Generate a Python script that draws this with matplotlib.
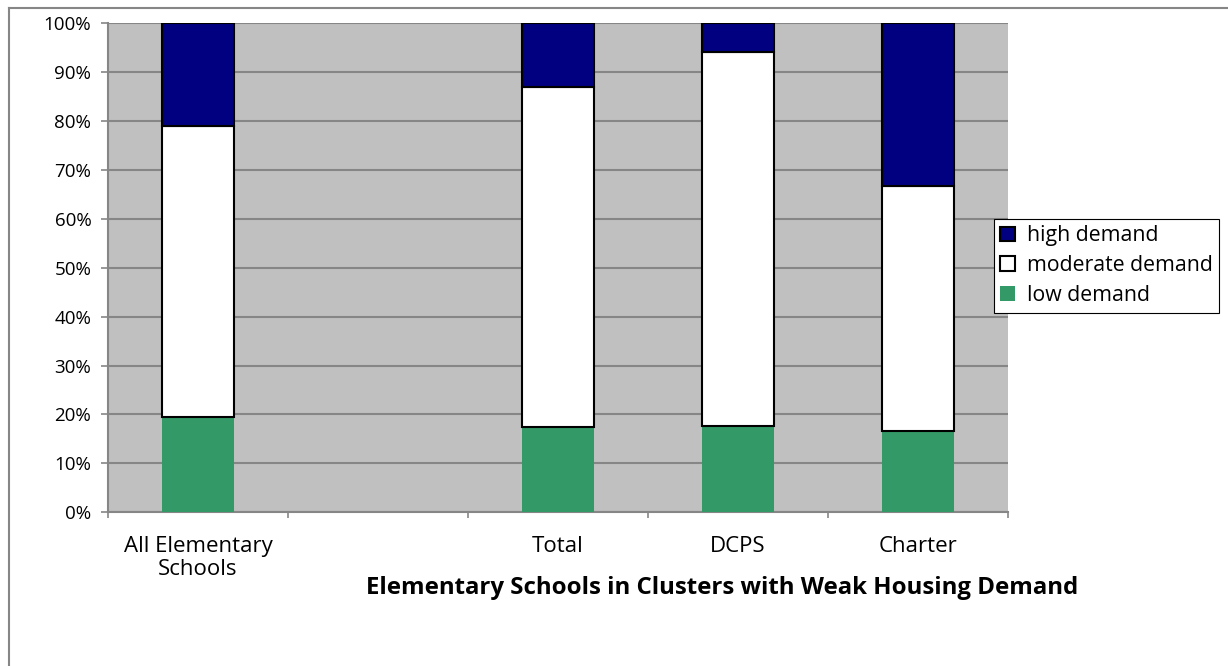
import numpy as np
import matplotlib
matplotlib.use('Agg')
import matplotlib.pyplot as plt
from matplotlib.lines import Line2D

plt.rcParams['font.family'] = ['Open Sans', 'DejaVu Sans']

# data (percent of schools)
categories = ['All Elementary\nSchools', '', 'Total', 'DCPS', 'Charter']
low = [19.5, 0, 17.4, 17.6, 16.7]
moderate = [59.4, 0, 69.6, 76.5, 50.0]
high = [21.1, 0, 13.0, 5.9, 33.3]
series_names = ['high demand', 'moderate demand', 'low demand']
group_label = 'Elementary Schools in Clusters with Weak Housing Demand'

navy = '#000080'
green = '#339966'
grey = '#868686'

fig = plt.figure(figsize=(12.28, 6.66), dpi=100)
ax = fig.add_axes([108/1228, 1-512.3/666, 900/1228, (512.3-23.3)/666])
ax.set_facecolor('#C0C0C0')

x = np.arange(len(categories))
low = np.array(low)
moderate = np.array(moderate)
high = np.array(high)
w = 0.4

b_low = ax.bar(x, low, w, color=green, linewidth=0, zorder=3)
b_mod = ax.bar(x, moderate, w, bottom=low, color='white', edgecolor='black', linewidth=1.5, zorder=3)
b_high = ax.bar(x, high, w, bottom=low+moderate, color=navy, edgecolor='black', linewidth=1.5, zorder=3)
# hide empty slot
for bars in (b_low, b_mod, b_high):
    bars[1].set_visible(False)

ax.set_xlim(-0.5, len(categories)-0.5)
ax.set_ylim(0, 100)
ax.set_yticks(np.arange(0, 101, 10))
ax.set_yticklabels(['%d%%' % v for v in range(0, 101, 10)], fontsize=13.5)
ax.yaxis.grid(True, color=grey, linewidth=1.5, zorder=1)
ax.set_axisbelow(True)

ax.set_xticks(np.arange(-0.5, len(categories), 1))
ax.set_xticklabels([])
ax.set_xticks(x, minor=True)
ax.set_xticklabels(categories, minor=True, fontsize=16, linespacing=1.12)
ax.tick_params(axis='x', which='minor', length=0, pad=17)
ax.tick_params(axis='x', which='major', length=4, color=grey, width=1.2)
ax.tick_params(axis='y', length=5, color=grey, width=1.2, pad=7)

for s in ['top', 'right']:
    ax.spines[s].set_visible(False)
for s in ['left', 'bottom']:
    ax.spines[s].set_color(grey)
    ax.spines[s].set_linewidth(1.5)

fig.text(722.5/1228, 1-588/666, group_label, ha='center', va='center',
         fontsize=17.3, fontweight='bold')

leg = fig.legend([b_high, b_mod, b_low], series_names, loc='upper left',
                 bbox_to_anchor=(994/1228, 1-219/666), fontsize=15.3,
                 handlelength=0.7, handleheight=0.7, handletextpad=0.55,
                 borderpad=0.3, labelspacing=0.42, borderaxespad=0,
                 fancybox=False, framealpha=1, edgecolor='black')
leg.get_frame().set_linewidth(0.8)

# outer chart border
fig.add_artist(Line2D([9/1228, 1], [1-7.5/666, 1-7.5/666], color=grey, linewidth=1.5))
fig.add_artist(Line2D([9/1228, 9/1228], [0, 1-7.5/666], color=grey, linewidth=1.5))

fig.savefig('out.png', dpi=100)
